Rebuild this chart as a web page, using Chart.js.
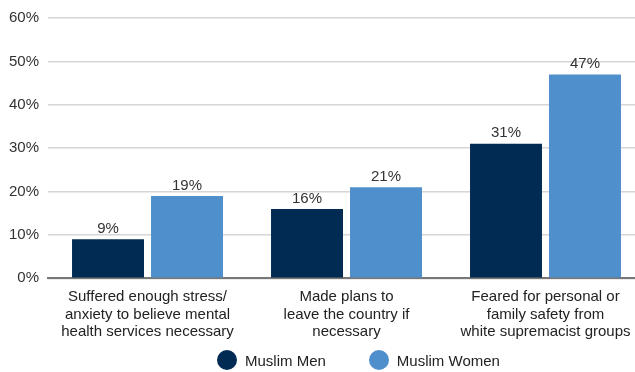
<!DOCTYPE html>
<html>
<head>
<meta charset="utf-8">
<script src="https://cdn.jsdelivr.net/npm/chart.js@4"></script>
<style>
  html, body { margin: 0; padding: 0; background: #fff; overflow: hidden; }
  #wrap { width: 645px; height: 351px; }
  #legenda {
    position: absolute; top: 350px; left: 217px;
    display: flex; align-items: center; gap: 43px;
    font: 15px 'Liberation Sans', Arial, sans-serif; color: #222;
  }
  #legenda .voce { display: flex; align-items: center; }
  #legenda .pallino { width: 20px; height: 20px; border-radius: 50%; margin-right: 8px; }
</style>
</head>
<body>
<div id="wrap"><canvas id="grafico"></canvas></div>
<div id="legenda"></div>
<script>
const categorie = [
  ['Suffered enough stress/', 'anxiety to believe mental', 'health services necessary'],
  ['Made plans to', 'leave the country if', 'necessary'],
  ['Feared for personal or', 'family safety from', 'white supremacist groups']
];
const uomini = [9, 16, 31];
const donne = [19, 21, 47];
const tickY = [0, 10, 20, 30, 40, 50, 60];

const FONT = "'Liberation Sans', Arial, sans-serif";

// etichette dei valori sopra le barre
const etichette = {
  id: 'etichette',
  afterDatasetsDraw(chart) {
    const { ctx } = chart;
    ctx.save();
    ctx.font = '15px ' + FONT;
    ctx.fillStyle = '#333';
    ctx.textAlign = 'center';
    ctx.textBaseline = 'bottom';
    chart.data.datasets.forEach((ds, i) => {
      chart.getDatasetMeta(i).data.forEach((bar, j) => {
        ctx.fillText(ds.data[j] + '%', bar.x, bar.y - 3);
      });
    });
    ctx.restore();
  }
};

const grafico = new Chart(document.getElementById('grafico'), {
  type: 'bar',
  data: {
    labels: categorie,
    datasets: [
      { label: 'Muslim Men', data: uomini, backgroundColor: '#022b53' },
      { label: 'Muslim Women', data: donne, backgroundColor: '#4f8fcc' }
    ]
  },
  options: {
    responsive: true,
    maintainAspectRatio: false,
    animation: false,
    categoryPercentage: 0.794,
    barPercentage: 0.911,
    layout: { padding: { top: 6, left: 0, right: 0, bottom: 0 } },
    scales: {
      x: {
        grid: { display: false, drawTicks: false },
        border: { color: '#777', width: 2 },
        ticks: { color: '#222', font: { family: FONT, size: 15, lineHeight: 1.17 }, padding: 10, maxRotation: 0, autoSkip: false }
      },
      y: {
        min: 0,
        max: 60,
        afterBuildTicks: axis => { axis.ticks = tickY.map(v => ({ value: v })); },
        grid: { color: '#d6d6d6', lineWidth: 1.5, drawTicks: false },
        border: { display: false },
        ticks: {
          color: '#333',
          font: { family: FONT, size: 15 },
          padding: 9,
          callback: v => v + '%'
        }
      }
    },
    plugins: {
      legend: { display: false },
      tooltip: { enabled: false }
    }
  },
  plugins: [etichette]
});

// legenda html con i colori dei dataset
const legenda = document.getElementById('legenda');
grafico.data.datasets.forEach(ds => {
  const voce = document.createElement('div');
  voce.className = 'voce';
  voce.innerHTML = `<span class="pallino" style="background:${ds.backgroundColor}"></span>${ds.label}`;
  legenda.appendChild(voce);
});
</script>
</body>
</html>
